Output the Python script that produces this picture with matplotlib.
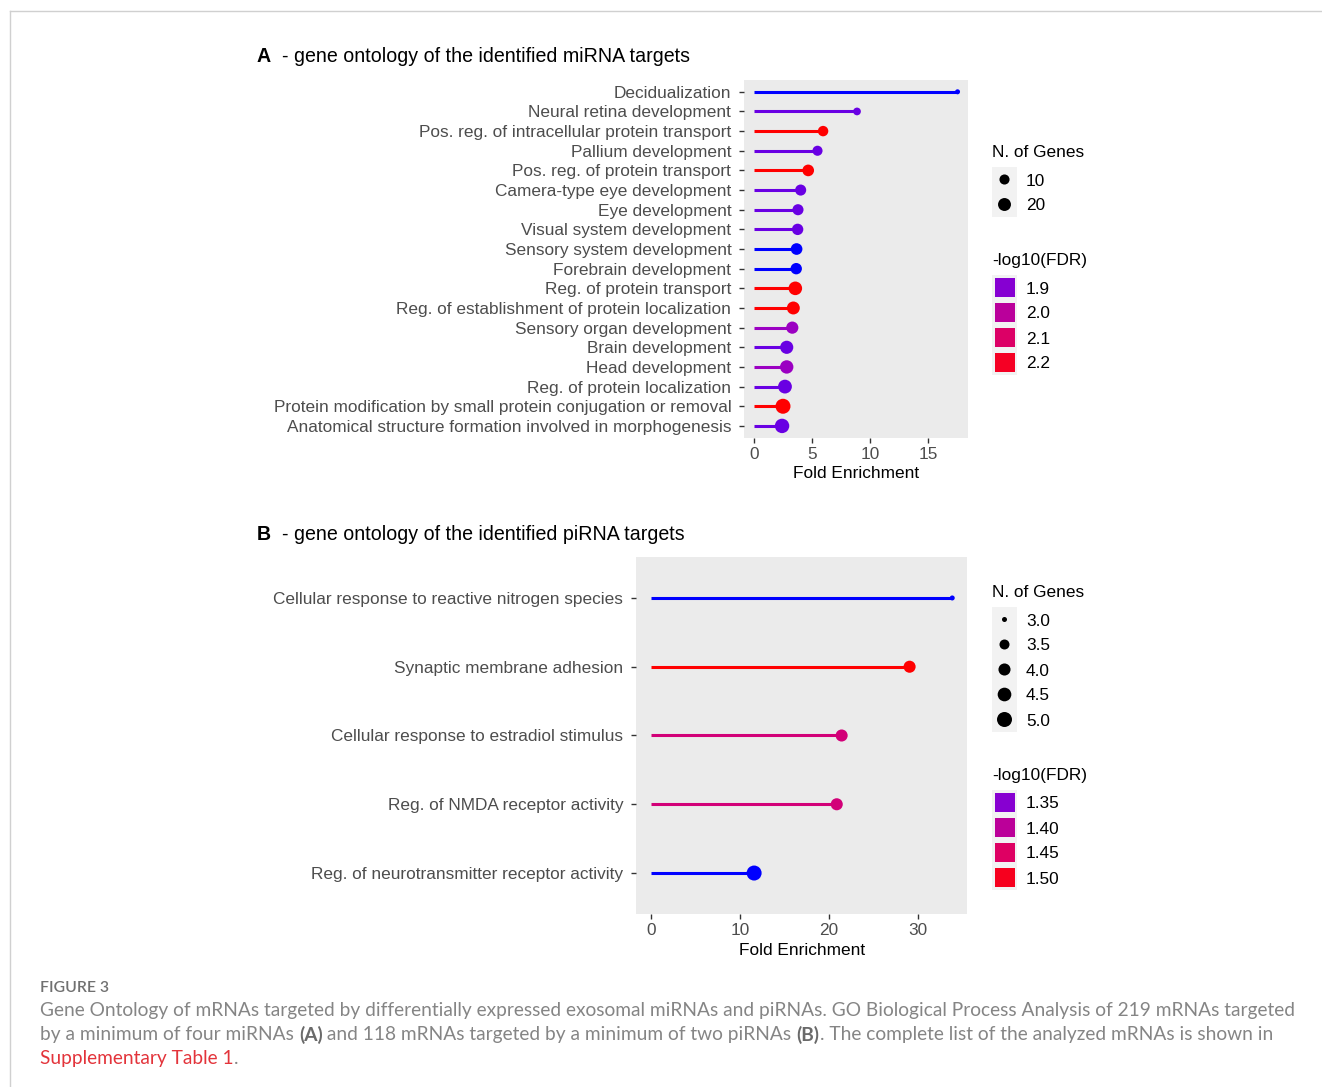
import matplotlib
matplotlib.use('Agg')
import matplotlib.pyplot as plt
import numpy as np
from matplotlib.colors import LinearSegmentedColormap, Normalize
from matplotlib.patches import Rectangle

W, H = 1322, 1087

# miRNA targets, GO biological process (top to bottom)
mirna_terms = ['Decidualization',
               'Neural retina development',
               'Pos. reg. of intracellular protein transport',
               'Pallium development',
               'Pos. reg. of protein transport',
               'Camera-type eye development',
               'Eye development',
               'Visual system development',
               'Sensory system development',
               'Forebrain development',
               'Reg. of protein transport',
               'Reg. of establishment of protein localization',
               'Sensory organ development',
               'Brain development',
               'Head development',
               'Reg. of protein localization',
               'Protein modification by small protein conjugation or removal',
               'Anatomical structure formation involved in morphogenesis']
mirna_fold = [17.5, 8.85, 5.93, 5.45, 4.65, 4.0, 3.77, 3.74, 3.65, 3.62,
              3.54, 3.37, 3.28, 2.8, 2.8, 2.65, 2.48, 2.4]
mirna_genes = [3, 5, 11, 10, 15, 13, 13, 14, 15, 14, 23, 20, 17, 21, 22, 24, 30, 27]
mirna_fdr = [1.82, 1.87, 2.25, 1.87, 2.25, 1.87, 1.87, 1.87, 1.82, 1.82,
             2.25, 2.25, 1.93, 1.87, 1.93, 1.87, 2.25, 1.87]
mirna_xticks = [0, 5, 10, 15]
mirna_size_breaks = [10, 20]
mirna_fdr_breaks = [1.9, 2.0, 2.1, 2.2]

# piRNA targets
pirna_terms = ['Cellular response to reactive nitrogen species',
               'Synaptic membrane adhesion',
               'Cellular response to estradiol stimulus',
               'Reg. of NMDA receptor activity',
               'Reg. of neurotransmitter receptor activity']
pirna_fold = [33.9, 29.1, 21.45, 20.9, 11.6]
pirna_genes = [3, 4, 4, 4, 5]
pirna_fdr = [1.31, 1.52, 1.43, 1.43, 1.31]
pirna_xticks = [0, 10, 20, 30]
pirna_size_breaks = [3.0, 3.5, 4.0, 4.5, 5.0]
pirna_fdr_breaks = [1.35, 1.40, 1.45, 1.50]

cap_lines = [
    [('Gene Ontology of mRNAs targeted by differentially expressed exosomal miRNAs and piRNAs. '
      'GO Biological Process Analysis of 219 mRNAs targeted', 'normal', '#858585')],
    [('by a minimum of four miRNAs ', 'normal', '#858585'), ('(A)', 'bold', '#6a6a6a'),
     (' and 118 mRNAs targeted by a minimum of two piRNAs ', 'normal', '#858585'),
     ('(B)', 'bold', '#6a6a6a'),
     ('. The complete list of the analyzed mRNAs is shown in', 'normal', '#858585')],
    [('Supplementary Table 1', 'normal', '#e3343b'), ('.', 'normal', '#858585')],
]

FONT = 'Liberation Sans'
CAP_FONT = 'Lato'
FS = 12.4
plt.rcParams['font.family'] = FONT

# blue -> red gradient (Lab-like path through violet/magenta)
cmap = LinearSegmentedColormap.from_list('bluered', [
    (0.0, '#0000FF'), (0.125, '#7300E0'), (0.25, '#9A00C3'),
    (0.5, '#C90088'), (0.75, '#E80050'), (1.0, '#FF0000')])


def dot_area(v, lo, hi):
    s = 1 + 5 * np.sqrt((np.asarray(v, float) - lo) / (hi - lo))
    d = (2.0 * s + 3.0) * 72 / 100
    return d ** 2


def px_box(l, t, r, b):
    return [l / W, 1 - b / H, (r - l) / W, (b - t) / H]


fig = plt.figure(figsize=(W / 100, H / 100), dpi=100)
ov = fig.add_axes([0, 0, 1, 1])
ov.set_xlim(0, W)
ov.set_ylim(H, 0)
ov.axis('off')
renderer = fig.canvas.get_renderer()


def rich_line(x, y, pieces, size, family):
    for txt, weight, color in pieces:
        t = ov.text(x, y, txt, fontsize=size, fontweight=weight, color=color,
                    family=family, ha='left', va='center_baseline')
        x += t.get_window_extent(renderer=renderer).width


def lollipop(box, terms, fold, genes, fdr, xticks):
    ax = fig.add_axes(px_box(*box))
    n = len(terms)
    y = np.arange(n)[::-1]
    norm = Normalize(min(fdr), max(fdr))
    cols = cmap(norm(fdr))
    ax.hlines(y, 0, fold, colors=cols, lw=2.2, zorder=2)
    ax.scatter(fold, y, s=dot_area(genes, min(genes), max(genes)), c=cols,
               linewidths=0, zorder=3)
    xmax = max(fold)
    ax.set_xlim(-0.05 * xmax, 1.05 * xmax)
    ax.set_ylim(-0.6, n - 0.4)
    ax.set_yticks(y)
    ax.set_yticklabels(terms)
    ax.set_xticks(xticks)
    ax.set_facecolor('#EBEBEB')
    for sp in ax.spines.values():
        sp.set_visible(False)
    ax.tick_params(length=3.6, width=1.0, color='#333333', labelcolor='#4D4D4D',
                   labelsize=FS)
    ax.tick_params(axis='x', pad=3)
    ax.tick_params(axis='y', pad=5.5)
    ax.set_xlabel('Fold Enrichment', fontsize=FS, color='black', labelpad=3)
    return ax


def legends(top_size, size_breaks, lo, hi, top_col, fdr_breaks, fmin, fmax):
    x0, key = 992, 25
    norm = Normalize(fmin, fmax)
    ov.text(x0, top_size - 16, 'N. of Genes', fontsize=FS, ha='left', va='center_baseline')
    ov.add_patch(Rectangle((x0, top_size), key, key * len(size_breaks),
                           fc='#F2F2F2', ec='none'))
    ys = top_size + key * (np.arange(len(size_breaks)) + 0.5)
    ov.scatter([x0 + key / 2] * len(size_breaks), ys,
               s=dot_area(size_breaks, lo, hi), c='black', linewidths=0)
    for v, yy in zip(size_breaks, ys):
        ov.text(x0 + 34, yy, f'{v:g}' if v >= 10 else f'{v:.1f}', fontsize=FS,
                ha='left', va='center_baseline')
    ov.text(x0, top_col - 16, '-log10(FDR)', fontsize=FS, ha='left', va='center_baseline')
    ov.add_patch(Rectangle((x0, top_col), key, key * len(fdr_breaks),
                           fc='#F2F2F2', ec='none'))
    digits = 1 if fdr_breaks[1] - fdr_breaks[0] >= 0.1 - 1e-9 else 2
    for i, v in enumerate(fdr_breaks):
        yy = top_col + key * (i + 0.5)
        ov.add_patch(Rectangle((x0 + 2.5, yy - 9.5), 20, 19, fc=cmap(norm(v)), ec='none'))
        ov.text(x0 + 34, yy, f'{v:.{digits}f}', fontsize=FS, ha='left', va='center_baseline')


# frame of the figure page
ov.plot([10, W], [11, 11], color='#d0d0d0', lw=1)
ov.plot([10, 10], [11, H], color='#d0d0d0', lw=1)

# panel A
lollipop((744, 80, 967.7, 437.7), mirna_terms, mirna_fold, mirna_genes, mirna_fdr, mirna_xticks)
rich_line(257, 54, [('A', 'bold', 'black'), ('  - gene ontology of the identified miRNA targets',
                                             'normal', 'black')], 14.15, FONT)
legends(167, mirna_size_breaks, min(mirna_genes), max(mirna_genes),
        275, mirna_fdr_breaks, min(mirna_fdr), max(mirna_fdr))

# panel B
lollipop((636, 556.7, 967.3, 914.3), pirna_terms, pirna_fold, pirna_genes, pirna_fdr, pirna_xticks)
rich_line(257, 532, [('B', 'bold', 'black'), ('  - gene ontology of the identified piRNA targets',
                                              'normal', 'black')], 14.15, FONT)
legends(607, pirna_size_breaks, min(pirna_genes), max(pirna_genes),
        790, pirna_fdr_breaks, min(pirna_fdr), max(pirna_fdr))

# caption, sized so the first line spans the text column
probe = ov.text(0, 0, cap_lines[0][0][0], fontsize=10, family=CAP_FONT)
cap_fs = 10 * 1257 / probe.get_window_extent(renderer=renderer).width
probe.remove()
ov.text(40, 986, 'FIGURE 3', fontsize=cap_fs * 0.82, color='#707070', family=CAP_FONT,
        fontweight='semibold', ha='left', va='center_baseline')
for pieces, yy in zip(cap_lines, [1009, 1033, 1057]):
    rich_line(40, yy, pieces, cap_fs, CAP_FONT)

fig.savefig('out.png', dpi=100)
